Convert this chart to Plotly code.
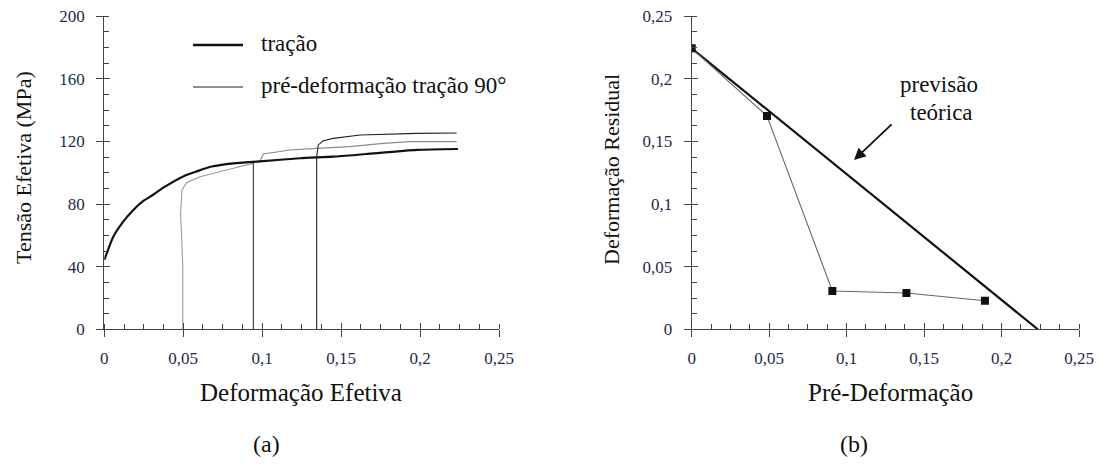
import plotly.graph_objects as go

# ---------------- data (a) ----------------
tracao_x = [0.0, 0.0057, 0.012, 0.0184, 0.0247, 0.031, 0.0374, 0.0506, 0.058, 0.068, 0.0818, 0.0986, 0.124, 0.145, 0.166, 0.198, 0.224]
tracao_y = [44.3, 59.2, 68.8, 76.2, 82.0, 86.0, 90.5, 98.0, 100.7, 104.0, 106.0, 107.3, 109.3, 110.3, 112.0, 114.6, 115.2]

pre1_x = [0.0497, 0.0497, 0.0490, 0.0483, 0.0492, 0.0521, 0.0606, 0.0712, 0.0818, 0.088, 0.0947]
pre1_y = [0.0, 40.0, 59.0, 74.0, 89.0, 93.7, 97.5, 100.0, 102.9, 104.6, 106.0]

pre2_vx = [0.0944, 0.0944]
pre2_vy = [0.0, 107.0]
pre2_x = [0.0944, 0.0987, 0.1007, 0.1176, 0.1345, 0.1556, 0.1767, 0.1936, 0.2232]
pre2_y = [107.0, 107.6, 112.0, 114.6, 115.6, 116.7, 118.8, 119.9, 119.9]

pre3_x = [0.1345, 0.1345, 0.1355, 0.1387, 0.145, 0.162, 0.1979, 0.2232]
pre3_y = [0.0, 110.3, 117.8, 120.5, 122.0, 124.2, 125.2, 125.4]

# ---------------- data (b) ----------------
pre_def = [0.0, 0.0486, 0.0908, 0.1386, 0.1893]
res_def = [0.2244, 0.1704, 0.0306, 0.0290, 0.0228]
teo_x = [0.0, 0.2234]
teo_y = [0.2244, 0.0]

xticks_a = [0, 0.05, 0.1, 0.15, 0.2, 0.25]
xticklabels = ["0", "0,05", "0,1", "0,15", "0,2", "0,25"]
yticks_a = [0, 40, 80, 120, 160, 200]
yticks_b = [0, 0.05, 0.1, 0.15, 0.2, 0.25]

SERIF = "'Liberation Serif', 'Times New Roman', Times, serif"
TICKC = "#1f2a48"
AXC = "#444444"

fig = go.Figure()
fig.add_trace(go.Scatter(x=pre1_x, y=pre1_y, mode="lines", line=dict(color="#9a9a9a", width=1.1), xaxis="x", yaxis="y", showlegend=False))
fig.add_trace(go.Scatter(x=pre2_vx, y=pre2_vy, mode="lines", line=dict(color="#333333", width=1.1), xaxis="x", yaxis="y", showlegend=False))
fig.add_trace(go.Scatter(x=pre2_x, y=pre2_y, mode="lines", line=dict(color="#8a8a8a", width=1.1), xaxis="x", yaxis="y", showlegend=False))
fig.add_trace(go.Scatter(x=pre3_x, y=pre3_y, mode="lines", line=dict(color="#222222", width=1.1), xaxis="x", yaxis="y", showlegend=False))
fig.add_trace(go.Scatter(x=tracao_x, y=tracao_y, mode="lines", line=dict(color="#111111", width=2.2, shape="spline", smoothing=0.6), xaxis="x", yaxis="y", showlegend=False))

fig.add_trace(go.Scatter(x=teo_x, y=teo_y, mode="lines", line=dict(color="#111111", width=2.2), xaxis="x2", yaxis="y2", showlegend=False))
fig.add_trace(go.Scatter(x=pre_def, y=res_def, mode="lines+markers", line=dict(color="#666666", width=1.1),
                         marker=dict(symbol="square", size=8, color="#111111"), xaxis="x2", yaxis="y2", showlegend=False))

# invisible traces for tick-crossing overlay axes
fig.add_trace(go.Scatter(x=[0], y=[0], mode="markers", marker=dict(opacity=0), xaxis="x3", yaxis="y3", showlegend=False, hoverinfo="skip"))
fig.add_trace(go.Scatter(x=[0], y=[0], mode="markers", marker=dict(opacity=0), xaxis="x4", yaxis="y4", showlegend=False, hoverinfo="skip"))

# page has an 8px body margin: figure is sized to fit the window exactly
OFF = 8
W, H = 1115 - 2 * OFF, 467 - 2 * OFF

def px_x(p):
    return (p - OFF) / W
def px_y(p):
    return 1 - (p - OFF) / H

dax = [px_x(104.3), px_x(499)]
dbx = [px_x(691.7), px_x(1079)]
dy = [px_y(329.3), px_y(16.3)]

def xa(domain, anchor, **kw):
    d = dict(domain=domain, anchor=anchor, range=[0, 0.25], tickvals=xticks_a, ticktext=xticklabels,
             ticks="outside", ticklen=7, tickwidth=1.2, tickcolor=AXC, showline=True, linecolor=AXC, linewidth=1.3,
             showgrid=False, zeroline=False, tickfont=dict(family=SERIF, size=17, color=TICKC), automargin=False,
             minor=dict(dtick=0.0125, tick0=0, ticks="inside", ticklen=5, tickwidth=1, tickcolor=AXC),
             ticklabelstandoff=6, ticklabeloverflow="allow")
    d.update(kw)
    return d

def ya(domain, anchor, rng, tv, tt, mdt, **kw):
    d = dict(domain=domain, anchor=anchor, range=rng, tickvals=tv, ticktext=tt,
             ticks="outside", ticklen=7, tickwidth=1.2, tickcolor=AXC, showline=True, linecolor=AXC, linewidth=1.3,
             showgrid=False, zeroline=False, tickfont=dict(family=SERIF, size=17, color=TICKC), automargin=False,
             minor=dict(dtick=mdt, tick0=0, ticks="inside", ticklen=5, tickwidth=1, tickcolor=AXC),
             ticklabelstandoff=8, ticklabeloverflow="allow")
    d.update(kw)
    return d

def ov(domain, anchor, rng, tv, overlaying):
    return dict(domain=domain, anchor=anchor, range=rng, tickvals=tv, showticklabels=False, ticks="inside",
                ticklen=6, tickwidth=1.2, tickcolor=AXC, showline=False, showgrid=False, zeroline=False,
                overlaying=overlaying, automargin=False)

fig.update_layout(
    width=W, height=H, margin=dict(l=0, r=0, t=0, b=0, autoexpand=False),
    paper_bgcolor="white", plot_bgcolor="white",
    font=dict(family=SERIF, color="#111111"),
    xaxis=xa(dax, "y"),
    yaxis=ya(dy, "x", [0, 200], yticks_a, [str(v) for v in yticks_a], 10),
    xaxis2=xa(dbx, "y2"),
    yaxis2=ya(dy, "x2", [0, 0.25], yticks_b, xticklabels, 0.0125),
    xaxis3=ov(dax, "y3", [0, 0.25], xticks_a, "x"),
    yaxis3=ov(dy, "x3", [0, 200], yticks_a, "y"),
    xaxis4=ov(dbx, "y4", [0, 0.25], xticks_a, "x2"),
    yaxis4=ov(dy, "x4", [0, 0.25], yticks_b, "y2"),
)

def txt(text, x, y, size, xref="paper", yref="paper", xanchor="center", angle=0):
    if xref == "paper":
        x = px_x(x)
    if yref == "paper":
        y = px_y(y)
    return dict(text=text, x=x, y=y, xref=xref, yref=yref, showarrow=False, xanchor=xanchor, yanchor="middle",
                textangle=angle, font=dict(family=SERIF, size=size, color="#111111"))

ann = [
    txt("Deformação Efetiva", 301, 392, 25),
    txt("Pré-Deformação", 890, 392, 25),
    txt("Tensão Efetiva (MPa)", 23, 168, 22, angle=-90),
    txt("Deformação Residual", 612, 170, 22, angle=-90),
    txt("(a)", 266, 444, 24),
    txt("(b)", 854, 444, 24),
    txt("tração", 259, 43, 23, xanchor="left"),
    txt("pré-deformação tração 90°", 259, 85, 23, xanchor="left"),
    txt("previsão", 0.1597, 0.1952, 23, xref="x2", yref="y2"),
    txt("teórica", 0.161, 0.1728, 23, xref="x2", yref="y2"),
]
ann.append(dict(text="", x=0.1048, y=0.1352, ax=0.130, ay=0.1648, xref="x2", yref="y2", axref="x2", ayref="y2",
                showarrow=True, arrowhead=2, arrowsize=1.3, arrowwidth=1.8, arrowcolor="#111111"))
fig.update_layout(annotations=ann)

fig.add_shape(type="line", x0=px_x(193), x1=px_x(243), y0=px_y(45), y1=px_y(45), xref="paper", yref="paper",
              line=dict(color="#111111", width=2.4))
fig.add_shape(type="line", x0=px_x(193), x1=px_x(243), y0=px_y(87), y1=px_y(87), xref="paper", yref="paper",
              line=dict(color="#222222", width=1.1))

fig.write_html("out.html")
